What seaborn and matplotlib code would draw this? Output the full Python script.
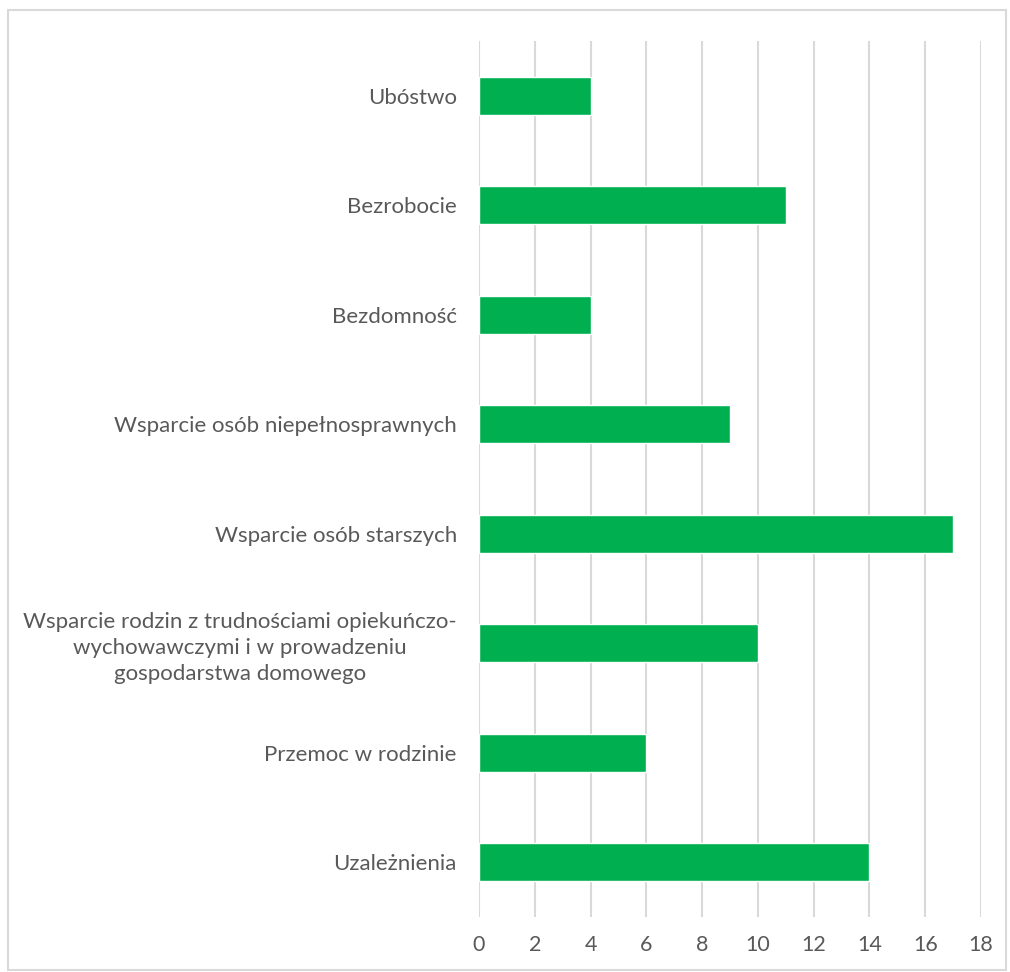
import matplotlib
matplotlib.use("Agg")
import matplotlib.pyplot as plt
import seaborn as sns
import pandas as pd
from matplotlib.patches import Rectangle

# -- Data
categories = [
    "Ubóstwo",
    "Bezrobocie",
    "Bezdomność",
    "Wsparcie osób niepełnosprawnych",
    "Wsparcie osób starszych",
    "Wsparcie rodzin z trudnościami opiekuńczo-\nwychowawczymi i w prowadzeniu\ngospodarstwa domowego",
    "Przemoc w rodzinie",
    "Uzależnienia",
]
values = [4, 11, 4, 9, 17, 10, 6, 14]
x_ticks = [0, 2, 4, 6, 8, 10, 12, 14, 16, 18]

GREEN = "#00B050"
GRID = "#D9D9D9"
TEXT = "#595959"

sns.set_theme(style="white")
plt.rcParams['font.family'] = ['Lato', 'DejaVu Sans']

df = pd.DataFrame({"cat": categories, "val": values})

fig = plt.figure(figsize=(10.10, 9.72), dpi=100)
ax = fig.add_axes([0.4743, 0.0566, 0.4970, 0.9012])

sns.barplot(data=df, y="cat", x="val", orient="h", color=GREEN,
            width=0.35, saturation=1, ax=ax)

ax.set_xlim(0, 18)
ax.set_xticks(x_ticks)
ax.set_xticklabels([str(t) for t in x_ticks], fontsize=15.5, color=TEXT)
ax.set_ylim(len(categories) - 0.5, -0.5)
ax.set_xlabel("")
ax.set_ylabel("")
ax.set_axisbelow(True)
ax.xaxis.grid(True, color=GRID, linewidth=1.5)
ax.yaxis.grid(False)
for s in ax.spines.values():
    s.set_visible(False)
ax.tick_params(axis="x", length=0, pad=13)
ax.tick_params(axis="y", length=0, pad=16)
for lbl in ax.get_yticklabels():
    lbl.set_fontsize(16)
    lbl.set_color(TEXT)
    lbl.set_horizontalalignment("right")
    lbl.set_multialignment("center")
    lbl.set_linespacing(1.35)

# light outer frame like the original chart area
fig.patches.append(Rectangle((0.008, 0.002), 0.988, 0.988, transform=fig.transFigure,
                             fill=False, edgecolor=GRID, linewidth=1.5))

fig.savefig("out.png", dpi=100)
